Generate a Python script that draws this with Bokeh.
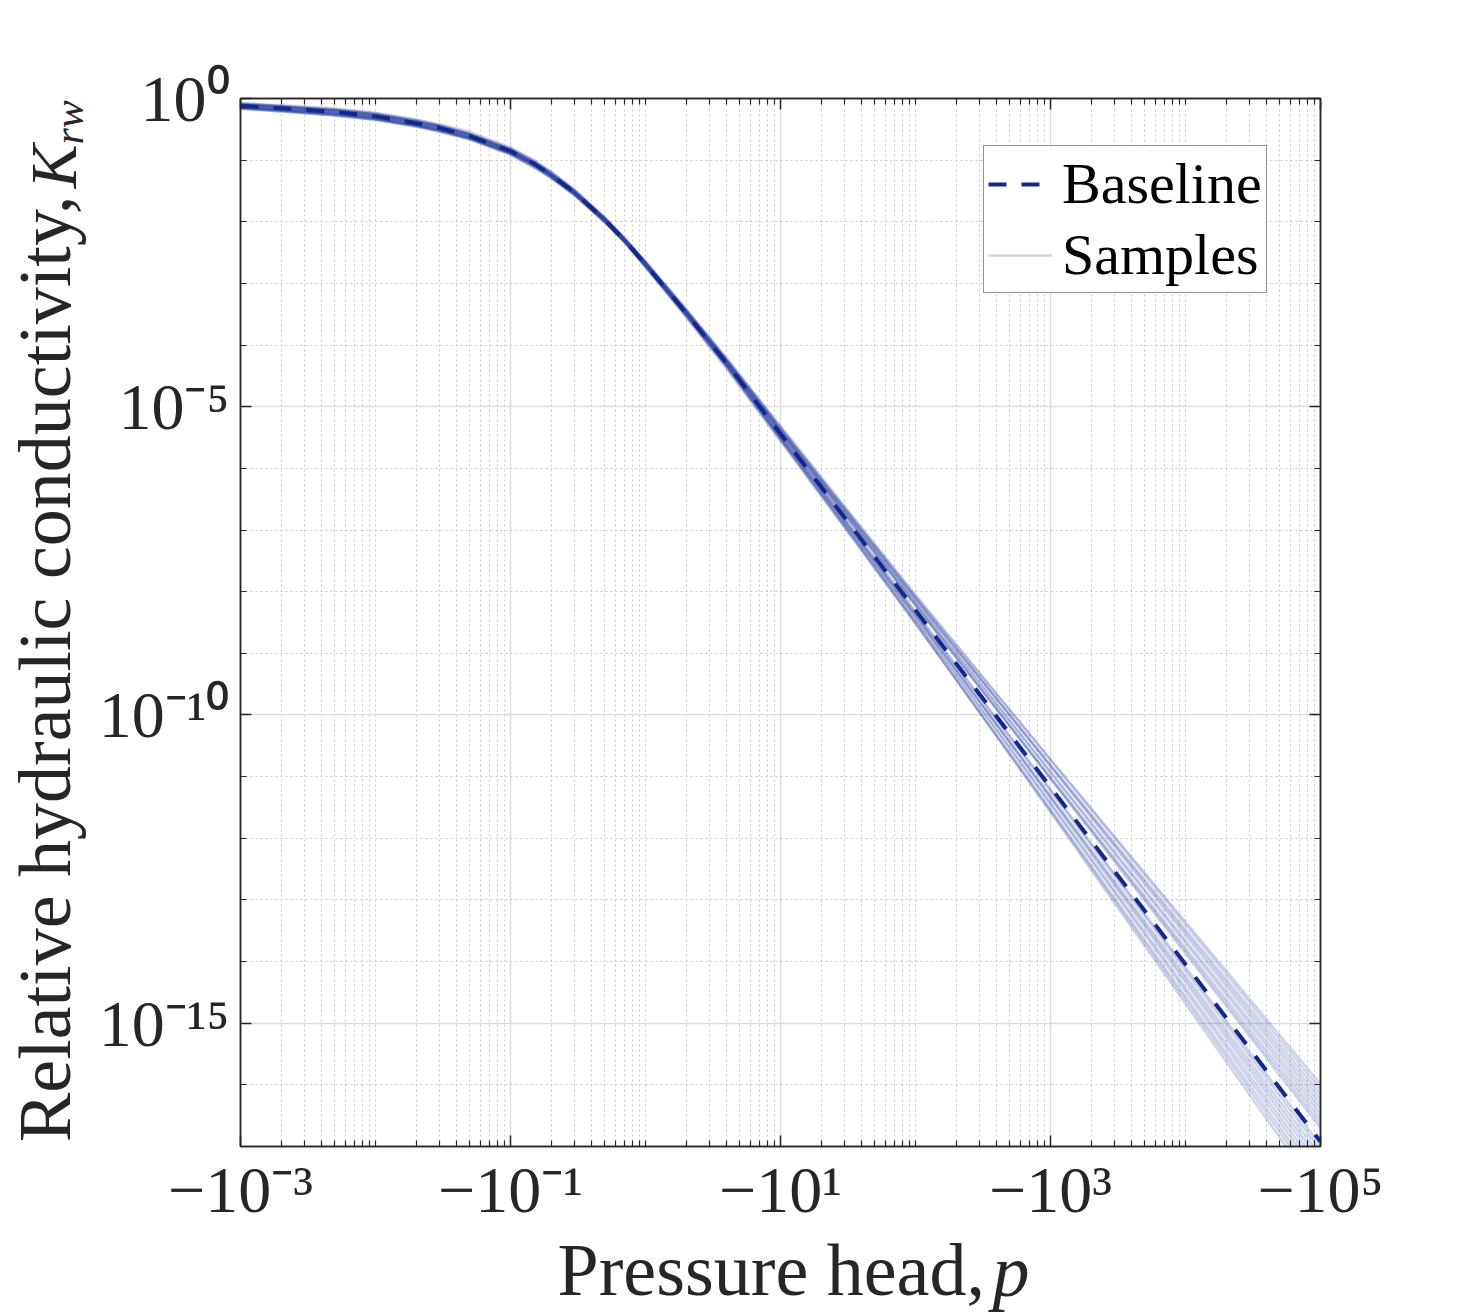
from math import pi

from bokeh.plotting import figure
from bokeh.models import (Range1d, FixedTicker, LogAxis, CustomJSTickFormatter,
                          Label, Legend, LegendItem)
from bokeh.embed import file_html
from bokeh.resources import INLINE

# |p| values at which every curve is tabulated
P_HEAD = [1e-3, 2e-3, 5e-3, 1e-2, 2e-2, 3e-2, 5e-2, 0.1, 0.15, 0.2, 0.3, 0.5, 0.7,
          1.0, 2.0, 4.0, 10.0, 1e2, 1e3, 1e5]

# relative hydraulic conductivity of the baseline parameter set
BASELINE_KRW = [0.759, 0.692, 0.603, 0.513, 0.398, 0.331, 0.245, 0.140, 0.0871, 0.0575,
                0.0295, 0.0107, 5.01e-3, 2.04e-3, 3.31e-4, 5.01e-5, 3.63e-6, 5.01e-9,
                6.76e-12, 1.20e-17]

# sampled parameter sets
SAMPLE_01 = [0.676, 0.617, 0.525, 0.447, 0.347, 0.288, 0.214, 0.123, 0.0759, 0.0513, 0.0269, 0.0100, 4.79e-3, 2.00e-3, 3.39e-4, 5.50e-5, 4.47e-6, 8.51e-9, 1.91e-11, 1.02e-16]
SAMPLE_02 = [0.692, 0.631, 0.537, 0.457, 0.355, 0.302, 0.224, 0.129, 0.0832, 0.0550, 0.0288, 0.0110, 5.25e-3, 2.24e-3, 3.80e-4, 6.03e-5, 4.90e-6, 8.91e-9, 1.86e-11, 8.51e-17]
SAMPLE_03 = [0.692, 0.617, 0.537, 0.457, 0.355, 0.288, 0.219, 0.123, 0.0759, 0.0513, 0.0263, 9.77e-3, 4.68e-3, 1.95e-3, 3.24e-4, 5.25e-5, 4.07e-6, 7.59e-9, 1.55e-11, 7.08e-17]
SAMPLE_04 = [0.708, 0.631, 0.550, 0.468, 0.363, 0.302, 0.224, 0.129, 0.0813, 0.0537, 0.0282, 0.0105, 5.01e-3, 2.09e-3, 3.55e-4, 5.62e-5, 4.37e-6, 7.76e-9, 1.51e-11, 5.89e-17]
SAMPLE_05 = [0.708, 0.646, 0.562, 0.479, 0.372, 0.309, 0.234, 0.135, 0.0851, 0.0575, 0.0302, 0.0112, 5.37e-3, 2.29e-3, 3.80e-4, 6.03e-5, 4.68e-6, 7.94e-9, 1.45e-11, 4.90e-17]
SAMPLE_06 = [0.708, 0.646, 0.562, 0.468, 0.363, 0.302, 0.224, 0.129, 0.0794, 0.0525, 0.0275, 0.0100, 4.79e-3, 2.00e-3, 3.31e-4, 5.13e-5, 3.98e-6, 6.61e-9, 1.20e-11, 4.07e-17]
SAMPLE_07 = [0.724, 0.661, 0.575, 0.490, 0.380, 0.316, 0.234, 0.135, 0.0851, 0.0575, 0.0295, 0.0110, 5.25e-3, 2.19e-3, 3.63e-4, 5.75e-5, 4.37e-6, 6.92e-9, 1.17e-11, 3.39e-17]
SAMPLE_08 = [0.724, 0.661, 0.562, 0.479, 0.372, 0.309, 0.229, 0.129, 0.0794, 0.0525, 0.0269, 9.77e-3, 4.68e-3, 1.91e-3, 3.16e-4, 4.90e-5, 3.72e-6, 5.89e-9, 9.77e-12, 2.82e-17]
SAMPLE_09 = [0.741, 0.661, 0.575, 0.490, 0.380, 0.316, 0.234, 0.135, 0.0851, 0.0562, 0.0288, 0.0107, 5.01e-3, 2.09e-3, 3.39e-4, 5.25e-5, 3.89e-6, 6.03e-9, 9.55e-12, 2.34e-17]
SAMPLE_10 = [0.741, 0.676, 0.589, 0.501, 0.398, 0.331, 0.245, 0.141, 0.0891, 0.0589, 0.0309, 0.0115, 5.37e-3, 2.24e-3, 3.72e-4, 5.62e-5, 4.17e-6, 6.17e-9, 9.12e-12, 2.00e-17]
SAMPLE_11 = [0.759, 0.692, 0.603, 0.513, 0.398, 0.331, 0.245, 0.138, 0.0851, 0.0562, 0.0282, 0.0102, 4.79e-3, 1.91e-3, 3.09e-4, 4.68e-5, 3.39e-6, 4.57e-9, 6.17e-12, 1.05e-17]
SAMPLE_12 = [0.776, 0.708, 0.617, 0.525, 0.407, 0.347, 0.257, 0.145, 0.0912, 0.0603, 0.0309, 0.0112, 5.25e-3, 2.14e-3, 3.47e-4, 5.25e-5, 3.72e-6, 4.79e-9, 5.89e-12, 8.71e-18]
SAMPLE_13 = [0.776, 0.708, 0.617, 0.525, 0.407, 0.331, 0.245, 0.138, 0.0851, 0.0562, 0.0282, 0.0100, 4.68e-3, 1.86e-3, 2.95e-4, 4.47e-5, 3.09e-6, 4.07e-9, 4.90e-12, 7.08e-18]
SAMPLE_14 = [0.794, 0.724, 0.631, 0.537, 0.417, 0.347, 0.257, 0.145, 0.0891, 0.0589, 0.0302, 0.0107, 5.01e-3, 2.00e-3, 3.24e-4, 4.79e-5, 3.31e-6, 4.07e-9, 4.68e-12, 5.75e-18]
SAMPLE_15 = [0.794, 0.741, 0.646, 0.550, 0.427, 0.355, 0.263, 0.151, 0.0955, 0.0631, 0.0324, 0.0117, 5.37e-3, 2.19e-3, 3.47e-4, 5.13e-5, 3.55e-6, 4.17e-9, 4.47e-12, 4.68e-18]
SAMPLE_16 = [0.794, 0.724, 0.646, 0.550, 0.417, 0.347, 0.257, 0.145, 0.0891, 0.0589, 0.0295, 0.0105, 4.79e-3, 1.91e-3, 2.95e-4, 4.37e-5, 2.95e-6, 3.47e-9, 3.72e-12, 3.80e-18]
SAMPLE_17 = [0.813, 0.759, 0.661, 0.562, 0.437, 0.363, 0.269, 0.155, 0.0955, 0.0631, 0.0316, 0.0115, 5.25e-3, 2.09e-3, 3.31e-4, 4.79e-5, 3.24e-6, 3.63e-9, 3.55e-12, 3.09e-18]
SAMPLE_18 = [0.813, 0.741, 0.646, 0.550, 0.427, 0.355, 0.263, 0.145, 0.0891, 0.0589, 0.0295, 0.0102, 4.68e-3, 1.82e-3, 2.82e-4, 4.07e-5, 2.75e-6, 3.02e-9, 2.95e-12, 2.51e-18]
SAMPLE_19 = [0.832, 0.759, 0.661, 0.575, 0.447, 0.372, 0.269, 0.151, 0.0933, 0.0617, 0.0309, 0.0110, 5.01e-3, 1.95e-3, 3.09e-4, 4.47e-5, 2.95e-6, 3.09e-9, 2.82e-12, 2.04e-18]
SAMPLE_20 = [0.851, 0.776, 0.692, 0.589, 0.457, 0.380, 0.288, 0.162, 0.100, 0.0661, 0.0331, 0.0117, 5.37e-3, 2.14e-3, 3.31e-4, 4.79e-5, 3.09e-6, 3.16e-9, 2.63e-12, 1.62e-18]

SAMPLES = [SAMPLE_01, SAMPLE_02, SAMPLE_03, SAMPLE_04, SAMPLE_05, SAMPLE_06, SAMPLE_07,
           SAMPLE_08, SAMPLE_09, SAMPLE_10, SAMPLE_11, SAMPLE_12, SAMPLE_13, SAMPLE_14,
           SAMPLE_15, SAMPLE_16, SAMPLE_17, SAMPLE_18, SAMPLE_19, SAMPLE_20]

# axis ticks and their labels
X_TICKS = [1e-3, 1e-1, 1e1, 1e3, 1e5]
X_TICK_LABELS = ["−10⁻³", "−10⁻¹", "−10¹", "−10³", "−10⁵"]
Y_TICKS = [1e-15, 1e-10, 1e-5, 1.0]
Y_TICK_LABELS = ["10⁻¹⁵", "10⁻¹⁰", "10⁻⁵", "10⁰"]

FONT = "Liberation Serif"
INK = "#262626"
BASE_COLOR = "#12298c"
SAMPLE_COLOR = "#26399e"

X_LO, X_HI = 1e-3, 1e5
Y_LO, Y_HI = 1e-17, 1.0
FRAME_LEFT, FRAME_TOP, FRAME_W, FRAME_H = 240, 98, 1080, 1048
CANVAS_W, CANVAS_H = 1459, 1315

p = figure(width=CANVAS_W, height=CANVAS_H, x_axis_type="log", y_axis_type="log",
           x_range=Range1d(X_LO, X_HI), y_range=Range1d(Y_LO, Y_HI),
           output_backend="svg", toolbar_location=None,
           min_border_left=FRAME_LEFT, min_border_right=CANVAS_W - FRAME_LEFT - FRAME_W,
           min_border_top=FRAME_TOP, min_border_bottom=CANVAS_H - FRAME_TOP - FRAME_H,
           background_fill_color="white", border_fill_color="white")
p.outline_line_color = INK
p.outline_line_width = 1.5


def x_at(px):
    """data x that lands on canvas column px (log axis)"""
    return X_LO * (X_HI / X_LO) ** ((px - FRAME_LEFT) / FRAME_W)


def y_at(py):
    """data y that lands on canvas row py (log axis)"""
    return Y_HI * (Y_LO / Y_HI) ** ((py - FRAME_TOP) / FRAME_H)


x_minor = sorted([m * 10.0 ** d for d in range(-3, 5) for m in range(2, 10)]
                 + [1e-2, 1.0, 1e2, 1e4])
y_minor = [10.0 ** -d for d in range(1, 17) if d % 5]
xticker = FixedTicker(ticks=X_TICKS, minor_ticks=x_minor)
yticker = FixedTicker(ticks=Y_TICKS, minor_ticks=y_minor)

label_code = """
const i = majors.findIndex(t => Math.abs(Math.log10(t) - Math.log10(tick)) < 1e-6);
return i >= 0 ? names[i] : "";
"""
xfmt = CustomJSTickFormatter(args=dict(majors=X_TICKS, names=X_TICK_LABELS), code=label_code)
yfmt = CustomJSTickFormatter(args=dict(majors=Y_TICKS, names=Y_TICK_LABELS), code=label_code)
blank = CustomJSTickFormatter(code="return '';")


def style_axis(ax, ticker, fmt):
    ax.ticker = ticker
    ax.formatter = fmt
    ax.axis_line_color = INK
    ax.axis_line_width = 1.5
    ax.major_tick_line_color = INK
    ax.minor_tick_line_color = INK
    ax.major_tick_line_width = 1.5
    ax.minor_tick_line_width = 1.2
    ax.major_tick_in = 11
    ax.major_tick_out = 0
    ax.minor_tick_in = 6
    ax.minor_tick_out = 0
    ax.major_label_text_font = FONT
    ax.major_label_text_font_size = "66px"
    ax.major_label_text_color = INK
    ax.axis_label_text_font = FONT
    ax.axis_label_text_font_style = "normal"
    ax.axis_label_text_color = INK


xax, yax = p.xaxis[0], p.yaxis[0]
style_axis(xax, xticker, xfmt)
style_axis(yax, yticker, yfmt)
xax.major_label_standoff = 6
yax.major_label_standoff = 11
# trailing room keeps each title centred together with the italic symbol after it
xax.axis_label = "Pressure head, "
xax.axis_label_text_font_size = "74px"
xax.axis_label_standoff = 0
yax.axis_label = "Relative hydraulic conductivity,     "
yax.axis_label_text_font_size = "74px"
yax.axis_label_standoff = 10

top_axis = LogAxis()
right_axis = LogAxis()
p.add_layout(top_axis, "above")
p.add_layout(right_axis, "right")
style_axis(top_axis, xticker, blank)
style_axis(right_axis, yticker, blank)
top_axis.major_label_text_font_size = "1px"
right_axis.major_label_text_font_size = "1px"
top_axis.major_label_standoff = 0
right_axis.major_label_standoff = 0

for grid, ticker in ((p.xgrid[0], xticker), (p.ygrid[0], yticker)):
    grid.ticker = ticker
    grid.grid_line_color = "#dddddd"
    grid.grid_line_width = 1.5
    grid.minor_grid_line_color = "#c8c8c8"
    grid.minor_grid_line_dash = "2 3"
    grid.minor_grid_line_width = 1

# sample curves first, baseline on top
sample_renderers = [
    p.line(P_HEAD, s, line_color=SAMPLE_COLOR, line_alpha=0.22, line_width=2.5)
    for s in SAMPLES
]
base_renderer = p.line(P_HEAD, BASELINE_KRW, line_color=BASE_COLOR, line_width=4,
                       line_dash="18 15")

legend = Legend(
    items=[LegendItem(label="Baseline", renderers=[base_renderer]),
           LegendItem(label="Samples", renderers=[sample_renderers[0]])],
    location=(743, 853), orientation="vertical",
    label_text_font=FONT, label_text_font_size="58px", label_text_color="black",
    glyph_width=64, glyph_height=56, label_height=56, label_standoff=10,
    spacing=4, padding=4, margin=0,
    border_line_color=INK, border_line_width=1.5,
    background_fill_color="white", background_fill_alpha=1.0,
)
p.add_layout(legend)

# italic symbols of the axis titles; side panels keep them from being clipped
sym = dict(x_units="data", y_units="data", text_font=FONT, text_color=INK,
           text_font_style="italic", text_baseline="alphabetic", text_align="left")
p.add_layout(Label(x=x_at(992), y=y_at(1270), text="p", text_font_size="74px", **sym), "above")
p.add_layout(Label(x=x_at(53), y=y_at(188), text="K", text_font_size="66px",
                   angle=pi / 2, **sym), "right")
p.add_layout(Label(x=x_at(68), y=y_at(144), text="rw", text_font_size="42px",
                   angle=pi / 2, **sym), "right")

open("out.html", "w").write(file_html(p, INLINE))
